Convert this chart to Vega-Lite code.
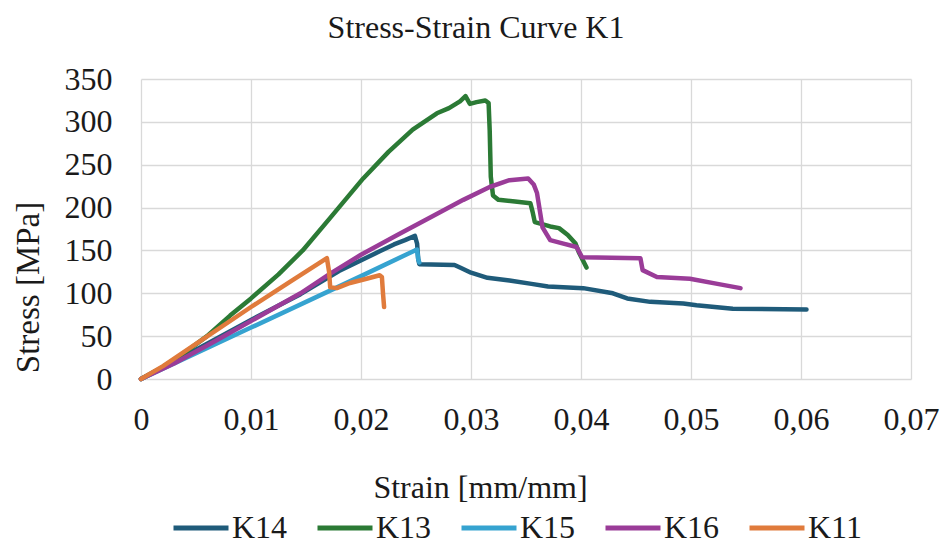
{
  "$schema": "https://vega.github.io/schema/vega-lite/v6.json",
  "autosize": {"type": "none"},
  "width": 770,
  "height": 300,
  "padding": {"left": 141, "top": 79, "right": 32, "bottom": 171},
  "background": "white",
  "title": {
    "text": "Stress-Strain Curve K1",
    "font": "Liberation Serif",
    "fontSize": 32,
    "fontWeight": "normal",
    "color": "#1a1a1a",
    "anchor": "middle",
    "frame": "group",
    "dx": -50,
    "dy": 34,
    "baseline": "alphabetic",
    "offset": 27
  },
  "config": {
    "font": "Liberation Serif",
    "view": {"stroke": null},
    "axis": {
      "labelFont": "Liberation Serif",
      "titleFont": "Liberation Serif",
      "labelColor": "#1a1a1a",
      "titleColor": "#1a1a1a",
      "labelFontSize": 32,
      "titleFontSize": 32,
      "titleFontWeight": "normal",
      "domain": false,
      "ticks": false,
      "grid": true,
      "gridColor": "#d9d9d9",
      "gridWidth": 1.3,
      "labelFlush": false
    }
  },
  "data": {
    "values": [
      {"s": "K14", "x": 0, "y": 0},
      {"s": "K14", "x": 0.005, "y": 34},
      {"s": "K14", "x": 0.01, "y": 69},
      {"s": "K14", "x": 0.0145, "y": 99},
      {"s": "K14", "x": 0.018, "y": 126},
      {"s": "K14", "x": 0.0217, "y": 149},
      {"s": "K14", "x": 0.023, "y": 157},
      {"s": "K14", "x": 0.024, "y": 162},
      {"s": "K14", "x": 0.0249, "y": 167},
      {"s": "K14", "x": 0.0251, "y": 158},
      {"s": "K14", "x": 0.0252, "y": 140},
      {"s": "K14", "x": 0.0253, "y": 134},
      {"s": "K14", "x": 0.0285, "y": 133},
      {"s": "K14", "x": 0.029, "y": 130},
      {"s": "K14", "x": 0.03, "y": 124},
      {"s": "K14", "x": 0.0315, "y": 118},
      {"s": "K14", "x": 0.0335, "y": 115},
      {"s": "K14", "x": 0.0355, "y": 111},
      {"s": "K14", "x": 0.037, "y": 108},
      {"s": "K14", "x": 0.0402, "y": 106},
      {"s": "K14", "x": 0.0429, "y": 100},
      {"s": "K14", "x": 0.0442, "y": 94},
      {"s": "K14", "x": 0.0463, "y": 90},
      {"s": "K14", "x": 0.0493, "y": 88},
      {"s": "K14", "x": 0.0505, "y": 86},
      {"s": "K14", "x": 0.0538, "y": 82},
      {"s": "K14", "x": 0.0605, "y": 81},

      {"s": "K13", "x": 0, "y": 0},
      {"s": "K13", "x": 0.002, "y": 14},
      {"s": "K13", "x": 0.004, "y": 31},
      {"s": "K13", "x": 0.006, "y": 50},
      {"s": "K13", "x": 0.0081, "y": 74},
      {"s": "K13", "x": 0.01, "y": 94},
      {"s": "K13", "x": 0.0125, "y": 122},
      {"s": "K13", "x": 0.0147, "y": 150},
      {"s": "K13", "x": 0.0172, "y": 188},
      {"s": "K13", "x": 0.0202, "y": 234},
      {"s": "K13", "x": 0.0225, "y": 265},
      {"s": "K13", "x": 0.0247, "y": 291},
      {"s": "K13", "x": 0.0269, "y": 310},
      {"s": "K13", "x": 0.028, "y": 316},
      {"s": "K13", "x": 0.029, "y": 324},
      {"s": "K13", "x": 0.0295, "y": 330},
      {"s": "K13", "x": 0.0299, "y": 321},
      {"s": "K13", "x": 0.0305, "y": 323},
      {"s": "K13", "x": 0.0313, "y": 325},
      {"s": "K13", "x": 0.0316, "y": 322},
      {"s": "K13", "x": 0.0317, "y": 290},
      {"s": "K13", "x": 0.0318, "y": 236},
      {"s": "K13", "x": 0.032, "y": 214},
      {"s": "K13", "x": 0.0325, "y": 209},
      {"s": "K13", "x": 0.034, "y": 207},
      {"s": "K13", "x": 0.0354, "y": 205},
      {"s": "K13", "x": 0.0356, "y": 195},
      {"s": "K13", "x": 0.0358, "y": 183},
      {"s": "K13", "x": 0.0372, "y": 178},
      {"s": "K13", "x": 0.038, "y": 176},
      {"s": "K13", "x": 0.0388, "y": 168},
      {"s": "K13", "x": 0.0395, "y": 158},
      {"s": "K13", "x": 0.0398, "y": 148},
      {"s": "K13", "x": 0.0405, "y": 130},

      {"s": "K15", "x": 0, "y": 0},
      {"s": "K15", "x": 0.01, "y": 60},
      {"s": "K15", "x": 0.02, "y": 120},
      {"s": "K15", "x": 0.0249, "y": 150},
      {"s": "K15", "x": 0.0251, "y": 151},
      {"s": "K15", "x": 0.0252, "y": 140},
      {"s": "K15", "x": 0.0253, "y": 136},

      {"s": "K16", "x": 0, "y": 0},
      {"s": "K16", "x": 0.003, "y": 18},
      {"s": "K16", "x": 0.007, "y": 46},
      {"s": "K16", "x": 0.0145, "y": 100},
      {"s": "K16", "x": 0.0172, "y": 123},
      {"s": "K16", "x": 0.02, "y": 145},
      {"s": "K16", "x": 0.0233, "y": 168},
      {"s": "K16", "x": 0.0265, "y": 190},
      {"s": "K16", "x": 0.0293, "y": 209},
      {"s": "K16", "x": 0.0317, "y": 224},
      {"s": "K16", "x": 0.0335, "y": 232},
      {"s": "K16", "x": 0.0352, "y": 234},
      {"s": "K16", "x": 0.0357, "y": 227},
      {"s": "K16", "x": 0.036, "y": 217},
      {"s": "K16", "x": 0.0365, "y": 177},
      {"s": "K16", "x": 0.0372, "y": 162},
      {"s": "K16", "x": 0.0384, "y": 158},
      {"s": "K16", "x": 0.0396, "y": 154},
      {"s": "K16", "x": 0.0401, "y": 142},
      {"s": "K16", "x": 0.0454, "y": 141},
      {"s": "K16", "x": 0.0456, "y": 127},
      {"s": "K16", "x": 0.0469, "y": 119},
      {"s": "K16", "x": 0.0499, "y": 117},
      {"s": "K16", "x": 0.0524, "y": 111},
      {"s": "K16", "x": 0.0545, "y": 106},

      {"s": "K11", "x": 0, "y": 0},
      {"s": "K11", "x": 0.002, "y": 15},
      {"s": "K11", "x": 0.005, "y": 41},
      {"s": "K11", "x": 0.01, "y": 84},
      {"s": "K11", "x": 0.0135, "y": 113},
      {"s": "K11", "x": 0.0169, "y": 141},
      {"s": "K11", "x": 0.0171, "y": 125},
      {"s": "K11", "x": 0.0172, "y": 107},
      {"s": "K11", "x": 0.0178, "y": 106},
      {"s": "K11", "x": 0.019, "y": 112},
      {"s": "K11", "x": 0.0205, "y": 117},
      {"s": "K11", "x": 0.0217, "y": 121},
      {"s": "K11", "x": 0.0219, "y": 119},
      {"s": "K11", "x": 0.022, "y": 100},
      {"s": "K11", "x": 0.0221, "y": 84}
    ]
  },
  "mark": {"type": "line", "strokeWidth": 4.5, "strokeJoin": "round", "strokeCap": "round"},
  "encoding": {
    "x": {
      "field": "x",
      "type": "quantitative",
      "scale": {"domain": [0, 0.07], "nice": false},
      "axis": {
        "values": [0, 0.01, 0.02, 0.03, 0.04, 0.05, 0.06, 0.07],
        "labelExpr": "replace(format(datum.value, '.2~f'), '.', ',')",
        "labelBaseline": "alphabetic",
        "labelPadding": 50,
        "title": "Strain [mm/mm]",
        "titleX": 339,
        "titleY": 118,
        "titleAlign": "center",
        "titleBaseline": "alphabetic"
      }
    },
    "y": {
      "field": "y",
      "type": "quantitative",
      "scale": {"domain": [0, 350], "nice": false},
      "axis": {
        "values": [0, 50, 100, 150, 200, 250, 300, 350],
        "labelPadding": 29,
        "title": "Stress [MPa]",
        "titleFontSize": 33,
        "titleX": -113,
        "titleY": 208,
        "titleAngle": -90,
        "titleAlign": "center",
        "titleBaseline": "middle"
      }
    },
    "color": {
      "field": "s",
      "type": "nominal",
      "scale": {
        "domain": ["K14", "K13", "K15", "K16", "K11"],
        "range": ["#1f5b7a", "#2b7a35", "#36a3d0", "#9a3c98", "#e07b3c"]
      },
      "legend": {
        "title": null,
        "orient": "none",
        "direction": "horizontal",
        "legendX": 30,
        "legendY": 419,
        "symbolType": "stroke",
        "symbolSize": 3025,
        "symbolStrokeWidth": 5,
        "labelFont": "Liberation Serif",
        "labelFontSize": 32,
        "labelColor": "#1a1a1a",
        "labelOffset": 1,
        "columnPadding": 19
      }
    }
  }
}
